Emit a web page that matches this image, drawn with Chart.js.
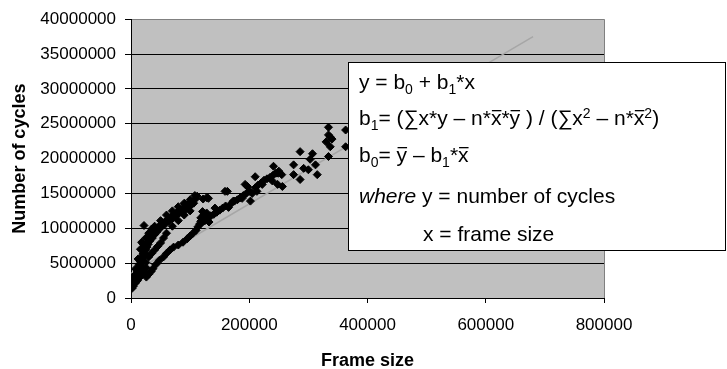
<!DOCTYPE html>
<html>
<head>
<meta charset="utf-8">
<script src="https://cdn.jsdelivr.net/npm/chart.js@4"></script>
<style>
  body { margin: 0; background: #fff; }
  canvas { display: block; }
</style>
</head>
<body>
<canvas id="chart" width="727" height="369"></canvas>
<script>
// frame size (x) and number of cycles (y)
const frameSize = [
  1000, 2000, 3000, 4000, 5000, 6000, 7000, 8000, 9000, 10000,
  11000, 12000, 13000, 14000, 15000, 16000, 17000, 18000, 19000, 20000,
  21000, 22000, 23000, 24000, 25000, 26000, 27000, 28000, 29000, 30000,
  32000, 34000, 36000, 38000, 40000, 42000, 44000, 46000, 48000, 50000,
  52000, 55000, 58000, 61000, 64000, 67000, 70000, 73000, 76000, 79000,
  82000, 85000, 88000, 91000, 94000, 97000, 100000, 103000, 106000, 109000,
  112000,
  10000, 15000, 20000, 25000, 30000, 35000, 40000, 45000, 50000, 55000,
  60000, 70000, 80000, 90000, 100000,
  2000, 4000, 7000, 11000, 14000, 18000, 22000, 26000,
  5000, 8000, 12000, 16000, 18000, 20000, 22000, 25000, 30000, 35000,
  40000, 50000, 60000, 70000, 80000, 90000, 100000, 108000,
  26000, 30000, 34000, 37000, 42000, 48000, 55000, 60000, 66000, 72000,
  80000, 88000, 95000, 100000, 105000, 110000, 113000, 116000, 118000, 120000,
  122000, 125000, 127000, 130000, 132000, 135000, 140000, 145000, 150000, 155000,
  160000, 165000, 170000, 175000, 180000, 185000, 190000, 195000, 200000, 205000,
  210000, 215000, 220000, 225000, 230000, 235000, 240000, 245000, 250000, 255000,
  118000, 123000, 128000, 121000, 122000, 128000, 131000, 142000, 159000, 163000,
  173000, 188000, 193000, 197000, 202000, 210000, 213000, 222000, 239000, 241000,
  248000, 249000, 256000, 275000, 275000, 286000, 286000, 292000, 300000, 303000,
  307000, 312000, 315000, 330000, 334000, 334000, 334000, 337000, 337000, 340000,
  363000, 363000
];
const cycles = [
  1800000, 2200000, 1900000, 2600000, 2400000, 3000000, 2800000, 3400000, 3200000, 3900000,
  3600000, 4300000, 4000000, 4800000, 4500000, 5200000, 5000000, 5800000, 5400000, 6300000,
  5900000, 6800000, 6400000, 7200000, 6900000, 7600000, 7300000, 8000000, 7700000, 8400000,
  8200000, 8800000, 8600000, 9300000, 9100000, 9700000, 9500000, 10100000, 9900000, 10500000,
  10300000, 10800000, 10600000, 11200000, 11000000, 11600000, 11400000, 12000000, 11800000, 12400000,
  12200000, 12700000, 12500000, 13000000, 12800000, 13400000, 13200000, 13800000, 13600000, 14200000,
  14600000,
  2600000, 3400000, 4300000, 5100000, 5900000, 6400000, 6900000, 7400000, 7900000, 8600000,
  9300000, 10300000, 11100000, 11900000, 12500000,
  1400000, 1700000, 2100000, 2500000, 2900000, 3300000, 3800000, 4300000,
  3000000, 4200000, 5600000, 7000000, 8000000, 7800000, 10400000, 8600000, 9300000, 9900000,
  10300000, 11100000, 11900000, 12500000, 13100000, 13600000, 14100000, 14700000,
  3000000, 3400000, 3800000, 4200000, 4800000, 5400000, 5900000, 6400000, 6900000, 7300000,
  7600000, 8000000, 8500000, 8900000, 9300000, 9700000, 10200000, 10600000, 11000000, 10800000,
  11300000, 11100000, 11600000, 11400000, 10900000, 11800000, 12000000, 12300000, 12600000, 12900000,
  13200000, 13000000, 13600000, 13900000, 14100000, 14400000, 14700000, 15000000, 15300000, 15000000,
  15800000, 16200000, 16500000, 16900000, 17100000, 17300000, 17600000, 17900000, 18200000, 17700000,
  11500000, 11900000, 12200000, 12400000, 14200000, 14400000, 14300000, 12900000, 15300000, 15300000,
  13900000, 14300000, 16300000, 16000000, 13900000, 17400000, 15300000, 16300000, 16800000, 18900000,
  16300000, 17900000, 16000000, 19100000, 17700000, 17000000, 21000000, 18600000, 18400000, 19900000,
  20700000, 19100000, 17700000, 22400000, 23400000, 20300000, 24500000, 21700000, 23100000, 22800000,
  21700000, 24100000
];

// linear trend line end points
const trendX = [1000, 680000];
const trendY = [3550000, 37500000];

const xTicks = [0, 200000, 400000, 600000, 800000];
const yTicks = [0, 5000000, 10000000, 15000000, 20000000, 25000000, 30000000, 35000000, 40000000];

// text box lines: [text, style] with style '', 'sub', 'sup', 'i', 'bar'
const noteLines = [
  [["y = b", ""], ["0", "sub"], [" + b", ""], ["1", "sub"], ["*x", ""]],
  [["b", ""], ["1", "sub"], ["= (\u2211x*y \u2013 n*", ""], ["x", "bar"], ["*", ""], ["y", "bar"],
   [" ) / (\u2211x", ""], ["2", "sup"], [" \u2013 n*", ""], ["x", "bar"], ["2", "sup"], [")", ""]],
  [["b", ""], ["0", "sub"], ["= ", ""], ["y", "bar"], [" \u2013 b", ""], ["1", "sub"], ["*", ""], ["x", "bar"]],
  [["where", "i"], [" y = number of cycles", ""]],
  [["x = frame size", ""]]
];

const points = frameSize.map((x, i) => ({ x: x, y: cycles[i] }));
const trend = trendX.map((x, i) => ({ x: x, y: trendY[i] }));

const FONT = "'Liberation Sans', Arial, sans-serif";

const plotBg = {
  id: "plotBg",
  beforeDraw(chart) {
    const { ctx, chartArea: a } = chart;
    ctx.save();
    ctx.fillStyle = "#c0c0c0";
    ctx.fillRect(a.left, a.top, a.right - a.left, a.bottom - a.top);
    ctx.strokeStyle = "#808080";
    ctx.lineWidth = 1;
    ctx.beginPath();
    ctx.moveTo(Math.round(a.right) + 0.5, a.top);
    ctx.lineTo(Math.round(a.right) + 0.5, a.bottom);
    ctx.stroke();
    ctx.restore();
  }
};

const noteBox = {
  id: "noteBox",
  afterDraw(chart) {
    const ctx = chart.ctx;
    ctx.save();
    ctx.fillStyle = "#fff";
    ctx.fillRect(348, 62, 378, 189);
    ctx.strokeStyle = "#000";
    ctx.lineWidth = 1;
    ctx.strokeRect(348.5, 62.5, 377, 188);
    ctx.fillStyle = "#000";
    ctx.textBaseline = "alphabetic";
    const baselines = [89, 125, 162, 203, 241];
    noteLines.forEach((runs, li) => {
      let x = li === 4 ? 423 : 359;
      const y = baselines[li];
      runs.forEach(([t, s]) => {
        let size = 21, dy = 0, style = "";
        if (s === "sub") { size = 14; dy = 5; }
        if (s === "sup") { size = 14; dy = -7; }
        if (s === "i") style = "italic ";
        ctx.font = style + size + "px " + FONT;
        ctx.fillText(t, x, y + dy);
        const w = ctx.measureText(t).width;
        if (s === "bar") {
          ctx.fillRect(x + 1, y - 15, w - 1, 1.3);
        }
        x += w;
      });
    });
    ctx.restore();
  }
};

new Chart(document.getElementById("chart"), {
  type: "scatter",
  data: {
    datasets: [
      {
        label: "Cycles",
        data: points,
        pointStyle: "rectRot",
        pointRadius: 4,
        pointBorderWidth: 1,
        backgroundColor: "#000",
        borderColor: "#000"
      },
      {
        type: "line",
        label: "Trend",
        data: trend,
        borderColor: "#a6a6a6",
        borderWidth: 1.5,
        pointRadius: 0,
        fill: false
      }
    ]
  },
  options: {
    responsive: false,
    animation: false,
    devicePixelRatio: 1,
    layout: { padding: { left: 0, top: 16, right: 123, bottom: 0 } },
    plugins: { legend: { display: false }, tooltip: { enabled: false } },
    scales: {
      x: {
        type: "linear",
        min: 0,
        max: 800000,
        afterFit: s => { s.height = 71; },
        afterBuildTicks: s => { s.ticks = xTicks.map(v => ({ value: v })); },
        grid: { drawOnChartArea: false, tickLength: 5, tickColor: "#000" },
        border: { color: "#000" },
        ticks: { color: "#000", padding: 12, maxRotation: 0, font: { family: FONT, size: 17 }, callback: v => String(v) },
        title: { display: true, text: "Frame size", color: "#000", padding: { top: 0, bottom: -3 }, font: { family: FONT, size: 18, weight: "bold" } }
      },
      y: {
        min: 0,
        max: 40000000,
        afterFit: s => { s.width = 131; },
        afterBuildTicks: s => { s.ticks = yTicks.map(v => ({ value: v })); },
        grid: {
          color: c => (c.tick && c.tick.value === 40000000 ? "#808080" : "#000"),
          tickLength: 6,
          tickColor: "#000"
        },
        border: { color: "#000" },
        ticks: { color: "#000", padding: 9, font: { family: FONT, size: 17 }, callback: v => String(v) },
        title: { display: true, text: "Number of cycles", color: "#000", padding: { top: 9, bottom: 0 }, font: { family: FONT, size: 18, weight: "bold" } }
      }
    }
  },
  plugins: [plotBg, noteBox]
});
</script>
</body>
</html>
